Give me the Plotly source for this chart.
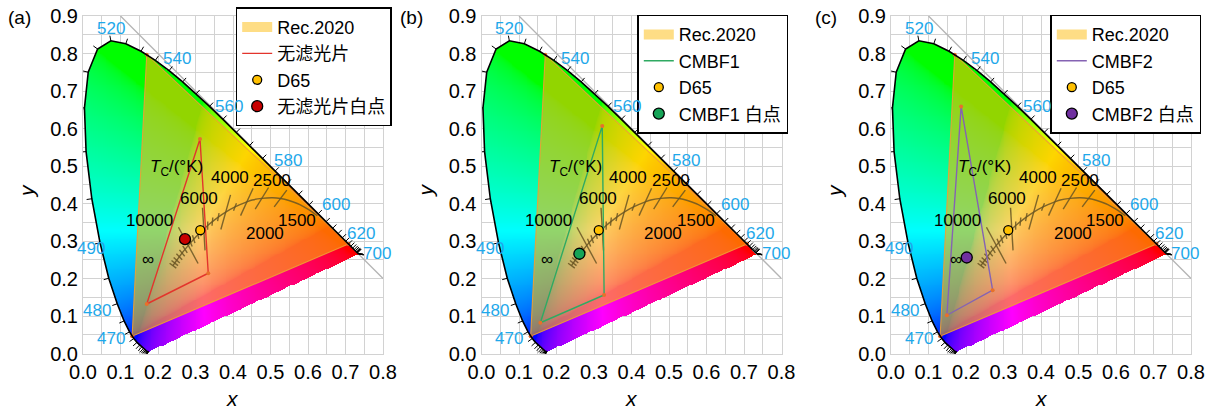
import base64
import struct
import zlib

import numpy as np
import plotly.graph_objects as go

# ---------------- data ----------------
# CIE 1931 2-degree spectral locus, 380-700 nm every 5 nm
wavelengths = list(range(380, 705, 5))
locus_x = [0.1741, 0.1740, 0.1738, 0.1736, 0.1733, 0.1730, 0.1726, 0.1721, 0.1714, 0.1703,
           0.1689, 0.1669, 0.1644, 0.1611, 0.1566, 0.1510, 0.1440, 0.1355, 0.1241, 0.1096,
           0.0913, 0.0687, 0.0454, 0.0235, 0.0082, 0.0039, 0.0139, 0.0389, 0.0743, 0.1142,
           0.1547, 0.1929, 0.2296, 0.2658, 0.3016, 0.3373, 0.3731, 0.4087, 0.4441, 0.4788,
           0.5125, 0.5448, 0.5752, 0.6029, 0.6270, 0.6482, 0.6658, 0.6801, 0.6915, 0.7006,
           0.7079, 0.7140, 0.7190, 0.7230, 0.7260, 0.7283, 0.7300, 0.7311, 0.7320, 0.7327,
           0.7334, 0.7340, 0.7344, 0.7346, 0.7347]
locus_y = [0.0050, 0.0050, 0.0049, 0.0049, 0.0048, 0.0048, 0.0048, 0.0048, 0.0051, 0.0058,
           0.0069, 0.0086, 0.0109, 0.0138, 0.0177, 0.0227, 0.0297, 0.0399, 0.0578, 0.0868,
           0.1327, 0.2007, 0.2950, 0.4127, 0.5384, 0.6548, 0.7502, 0.8120, 0.8338, 0.8262,
           0.8059, 0.7816, 0.7543, 0.7243, 0.6923, 0.6589, 0.6245, 0.5896, 0.5547, 0.5202,
           0.4866, 0.4544, 0.4242, 0.3965, 0.3725, 0.3514, 0.3340, 0.3197, 0.3083, 0.2993,
           0.2920, 0.2859, 0.2809, 0.2770, 0.2740, 0.2717, 0.2700, 0.2689, 0.2680, 0.2673,
           0.2666, 0.2660, 0.2656, 0.2654, 0.2653]

# labelled wavelengths
label_wavelengths = [520, 540, 560, 580, 600, 620, 700, 500, 490, 480, 470, 460, 380]

# Planckian locus (T in K; 1e12 stands for infinity)
planck_T = [1200, 1400, 1500, 1600, 1800, 2000, 2200, 2500, 2800, 3000, 3500, 4000, 4500,
            5000, 5500, 6000, 6500, 7000, 8000, 9000, 10000, 12000, 15000, 20000, 30000,
            50000, 1e12]
planck_x = [0.6251, 0.5985, 0.5857, 0.5732, 0.5492, 0.5267, 0.5056, 0.4770, 0.4513, 0.4369,
            0.4053, 0.3805, 0.3608, 0.3451, 0.3325, 0.3221, 0.3135, 0.3064, 0.2952, 0.2869,
            0.2807, 0.2720, 0.2642, 0.2568, 0.2499, 0.2447, 0.2399]
planck_y = [0.3674, 0.3858, 0.3931, 0.3993, 0.4081, 0.4133, 0.4152, 0.4137, 0.4093, 0.4041,
            0.3907, 0.3768, 0.3636, 0.3516, 0.3411, 0.3318, 0.3237, 0.3166, 0.3048, 0.2956,
            0.2884, 0.2778, 0.2679, 0.2580, 0.2486, 0.2412, 0.2342]
isotherm_long_T = [10000, 6000, 4000, 3000, 2500, 2000]
isotherm_short_T = [1e12, 50000, 30000, 20000, 15000, 12000, 9000, 8000, 7000, 6500,
                    5500, 5000, 4500, 3500]
planck_labels = ["<i>T</i><sub>C</sub>/(°K)", "4000", "2500", "6000", "10000", "1500", "2000", "∞"]

# Rec.2020 primaries and D65
rec2020_x = [0.708, 0.170, 0.131]
rec2020_y = [0.292, 0.797, 0.046]
d65_x = [0.3127]
d65_y = [0.3290]

# per panel
panel_tags = ["(a)", "(b)", "(c)"]
filter_names = ["无滤光片", "CMBF1", "CMBF2"]
white_names = ["无滤光片白点", "CMBF1 白点", "CMBF2 白点"]
gamut_x = [[0.312, 0.334, 0.170], [0.322, 0.327, 0.157], [0.187, 0.271, 0.149]]
gamut_y = [[0.572, 0.214, 0.132], [0.607, 0.156, 0.082], [0.659, 0.169, 0.102]]
white_x = [0.272, 0.261, 0.202]
white_y = [0.305, 0.266, 0.256]

# ---------------- styles ----------------
LINE_COLORS = ["#E3342C", "#2FAA62", "#8563B3"]
WP_COLORS = ["#C80000", "#16A457", "#7030A0"]
WL_BLUE = "#1EA8EA"
PLANCK_COLOR = "rgba(105,85,35,0.85)"
GRID = "#D2D2D2"
FONT = "Liberation Sans, Arial, sans-serif"
FONT_CJK = "Liberation Sans, Arial, Noto Sans CJK SC, sans-serif"
W, H = 1213, 409
X_LEFT_PX = [83, 481.5, 891]
PLOT_W_PX = 300
Y_TOP_PX, Y_BOT_PX = 16, 353.5
TAG_X_PX = [19.5, 411, 826]
LEGEND_POS_PX = [(235.7, 7.3), (637.3, 14.7), (1050.3, 14.7)]
XMAX, YMAX = 0.8, 0.9
ISO_LONG_HALF = [0.055, 0.057, 0.048, 0.040, 0.034, 0.028]   # half-length in xy units
ISO_SHORT_HALF = 0.011
REC_FILL = "rgba(252,182,0,0.58)"

# wavelength label offsets (data units) relative to the locus point
WL_OFFSETS = {520: (0.0, 0.032), 540: (0.020, 0.032), 560: (0.015, 0.033),
              580: (0.034, 0.027), 600: (0.048, 0.024), 620: (0.050, 0.013),
              700: (0.050, 0.001), 500: (-0.055, 0.003), 490: (-0.023, -0.015),
              480: (-0.054, -0.017), 470: (-0.050, -0.017), 460: (-0.046, -0.030),
              380: (0.045, -0.008)}
PLANCK_LABEL_POS = [(0.250, 0.494), (0.391, 0.470), (0.504, 0.461), (0.310, 0.414),
                    (0.178, 0.354), (0.571, 0.355), (0.484, 0.321), (0.174, 0.250)]


# ---------------- chromaticity background image ----------------
def make_cie_image():
    step = 0.0025
    nx, ny = int(round(XMAX / step)), int(round(YMAX / step))
    xs = (np.arange(nx) + 0.5) * step
    ys = (np.arange(ny) + 0.5) * step
    X, Y = np.meshgrid(xs, ys)
    px, py = np.array(locus_x), np.array(locus_y)
    inside = np.zeros(X.shape, dtype=bool)
    j = len(px) - 1
    for i in range(len(px)):
        xi, yi, xj, yj = px[i], py[i], px[j], py[j]
        if yi != yj:
            cond = ((yi > Y) != (yj > Y)) & (X < (xj - xi) * (Y - yi) / (yj - yi) + xi)
            inside ^= cond
        j = i
    Xc = X / Y
    Zc = (1 - X - Y) / Y
    r = 3.2406 * Xc - 1.5372 - 0.4986 * Zc
    g = -0.9689 * Xc + 1.8758 + 0.0415 * Zc
    b = 0.0557 * Xc - 0.2040 + 1.0570 * Zc
    rgb = np.clip(np.stack([r, g, b], axis=-1), 0, None)
    rgb = rgb / np.maximum(rgb.max(axis=-1, keepdims=True), 1e-9)
    rgb = np.where(rgb <= 0.0031308, 12.92 * rgb, 1.055 * np.power(rgb, 1 / 2.4) - 0.055)
    img = np.zeros((ny, nx, 4), dtype=np.uint8)
    img[..., :3] = np.clip(rgb * 255, 0, 255).astype(np.uint8)
    img[..., 3] = np.where(inside, 255, 0).astype(np.uint8)
    return img, step


def png_uri(rgba):
    h, w, _ = rgba.shape
    raw = b"".join(b"\x00" + rgba[i].tobytes() for i in range(h))

    def chunk(tag, data):
        c = struct.pack(">I", len(data)) + tag + data
        return c + struct.pack(">I", zlib.crc32(tag + data) & 0xFFFFFFFF)

    png = (b"\x89PNG\r\n\x1a\n" + chunk(b"IHDR", struct.pack(">IIBBBBB", w, h, 8, 6, 0, 0, 0))
           + chunk(b"IDAT", zlib.compress(raw, 9)) + chunk(b"IEND", b""))
    return "data:image/png;base64," + base64.b64encode(png).decode()


cie_img, STEP = make_cie_image()
CIE_URI = png_uri(cie_img)


# ---------------- geometry helpers ----------------
def locus_ticks(length=0.014):
    px, py = np.array(locus_x), np.array(locus_y)
    cx, cy = 0.33, 0.33
    xs, ys = [], []
    n = len(px)
    for i in range(n):
        a, b = max(i - 1, 0), min(i + 1, n - 1)
        tx, ty = px[b] - px[a], py[b] - py[a]
        nrm = np.hypot(tx, ty)
        if nrm < 2e-3:
            nx_, ny_ = px[i] - cx, py[i] - cy
        else:
            nx_, ny_ = ty, -tx
            if nx_ * (px[i] - cx) + ny_ * (py[i] - cy) < 0:
                nx_, ny_ = -nx_, -ny_
        l = np.hypot(nx_, ny_)
        nx_, ny_ = nx_ / l, ny_ / l
        xs += [px[i], px[i] + nx_ * length, None]
        ys += [py[i], py[i] + ny_ * length, None]
    return xs, ys


def xy_to_uv(x, y):
    d = -2 * x + 12 * y + 3
    return 4 * x / d, 6 * y / d


def uv_to_xy(u, v):
    d = 2 * u - 8 * v + 4
    return 3 * u / d, 2 * v / d


def isotherms(temps, halves):
    px, py = np.array(planck_x), np.array(planck_y)
    u, v = xy_to_uv(px, py)
    xs, ys = [], []
    n = len(px)
    for T, half in zip(temps, halves):
        i = planck_T.index(T)
        a, b = max(i - 1, 0), min(i + 1, n - 1)
        tu, tv = u[b] - u[a], v[b] - v[a]
        l = np.hypot(tu, tv)
        nu, nv = -tv / l, tu / l
        xa_, ya_ = uv_to_xy(u[i] + nu * 1e-3, v[i] + nv * 1e-3)
        dx, dy = xa_ - px[i], ya_ - py[i]
        dl = np.hypot(dx, dy)
        dx, dy = dx / dl * half, dy / dl * half
        xs += [px[i] + dx, px[i] - dx, None]
        ys += [py[i] + dy, py[i] - dy, None]
    return xs, ys


tick_x, tick_y = locus_ticks()
iso_long_x, iso_long_y = isotherms(isotherm_long_T, ISO_LONG_HALF)
iso_short_x, iso_short_y = isotherms(isotherm_short_T, [ISO_SHORT_HALF] * len(isotherm_short_T))

# ---------------- figure ----------------
fig = go.Figure()
annotations = []
shapes = []
layout = {}

for k in range(3):
    sfx = "" if k == 0 else str(k + 1)
    xa, ya = "x" + sfx, "y" + sfx
    leg = "legend" + sfx
    common = dict(xaxis=xa, yaxis=ya, hoverinfo="skip")

    # chromaticity colour fill
    fig.add_trace(go.Image(source=CIE_URI, x0=STEP / 2, dx=STEP, y0=STEP / 2, dy=STEP, **common))

    # Rec.2020 gamut fill + edge
    fig.add_trace(go.Scatter(x=rec2020_x + [rec2020_x[0]], y=rec2020_y + [rec2020_y[0]],
                             mode="lines", fill="toself", fillcolor=REC_FILL,
                             line=dict(color="rgba(240,160,50,0.9)", width=1.1),
                             showlegend=False, **common))
    fig.add_trace(go.Scatter(x=rec2020_x, y=rec2020_y, mode="markers",
                             marker=dict(size=4, color="#E8702A"), showlegend=False, **common))
    # legend swatch for Rec.2020
    fig.add_trace(go.Scatter(x=[None], y=[None], mode="lines", name="Rec.2020",
                             line=dict(color="#FEDD85", width=13), legend=leg, **common))

    # spectral locus outline + wavelength ticks
    fig.add_trace(go.Scatter(x=locus_x, y=locus_y, mode="lines",
                             line=dict(color="black", width=1.6), showlegend=False, **common))
    fig.add_trace(go.Scatter(x=tick_x, y=tick_y, mode="lines",
                             line=dict(color="black", width=1.0), showlegend=False, **common))

    # Planckian locus and isotherms
    fig.add_trace(go.Scatter(x=planck_x, y=planck_y, mode="lines", line_shape="spline",
                             line=dict(color=PLANCK_COLOR, width=1.4), showlegend=False, **common))
    fig.add_trace(go.Scatter(x=iso_long_x, y=iso_long_y, mode="lines",
                             line=dict(color=PLANCK_COLOR, width=1.4), showlegend=False, **common))
    fig.add_trace(go.Scatter(x=iso_short_x, y=iso_short_y, mode="lines",
                             line=dict(color=PLANCK_COLOR, width=1.4), showlegend=False, **common))

    # filter gamut triangle
    fig.add_trace(go.Scatter(x=gamut_x[k] + [gamut_x[k][0]], y=gamut_y[k] + [gamut_y[k][0]],
                             mode="lines", name=filter_names[k],
                             line=dict(color=LINE_COLORS[k], width=1.4), legend=leg, **common))
    fig.add_trace(go.Scatter(x=gamut_x[k], y=gamut_y[k], mode="markers",
                             marker=dict(size=4, color="#E8702A"), showlegend=False, **common))

    # D65 and white point
    fig.add_trace(go.Scatter(x=d65_x, y=d65_y, mode="markers", name="D65",
                             marker=dict(size=9, color="#FFC000", line=dict(color="black", width=1.3)),
                             legend=leg, **common))
    fig.add_trace(go.Scatter(x=[white_x[k]], y=[white_y[k]], mode="markers", name=white_names[k],
                             marker=dict(size=11, color=WP_COLORS[k], line=dict(color="black", width=1.3)),
                             legend=leg, **common))

    # axes
    x0p = X_LEFT_PX[k] / W
    x1p = (X_LEFT_PX[k] + PLOT_W_PX) / W
    y0p = 1 - Y_BOT_PX / H
    y1p = 1 - Y_TOP_PX / H
    axis_common = dict(showgrid=True, gridcolor=GRID, gridwidth=1, zeroline=False,
                       showline=True, linecolor=GRID, linewidth=1, mirror=True,
                       ticks="", tickfont=dict(family=FONT, size=20, color="black"),
                       tickformat=".1f", dtick=0.1, tick0=0,
                       minor=dict(dtick=0.05, showgrid=True, gridcolor=GRID, gridwidth=1),
                       fixedrange=True, automargin=False, ticklabelstandoff=0)
    layout["xaxis" + sfx] = dict(domain=[x0p, x1p], range=[0, XMAX], anchor=ya, **axis_common)
    layout["yaxis" + sfx] = dict(domain=[y0p, y1p], range=[0, YMAX], anchor=xa,
                                 scaleanchor=xa, scaleratio=1, constrain="domain", **axis_common)

    # x + y = 1 line
    shapes.append(dict(type="line", xref=xa, yref=ya, x0=1 - YMAX, y0=YMAX, x1=XMAX, y1=1 - XMAX,
                       line=dict(color="#B4B4B4", width=1.3), layer="between"))

    # wavelength labels
    for wl in label_wavelengths:
        i = wavelengths.index(wl)
        dx, dy = WL_OFFSETS[wl]
        annotations.append(dict(x=locus_x[i] + dx, y=locus_y[i] + dy, xref=xa, yref=ya,
                                xanchor="center", yanchor="middle",
                                text=str(wl), showarrow=False,
                                font=dict(family=FONT, size=17, color=WL_BLUE)))
    # Planckian labels
    for txt, (lx, ly) in zip(planck_labels, PLANCK_LABEL_POS):
        annotations.append(dict(x=lx, y=ly, xref=xa, yref=ya, text=txt, showarrow=False,
                                xanchor="center", yanchor="middle",
                                font=dict(family=FONT, size=17, color="black")))

    # axis titles and panel tags
    xc = (X_LEFT_PX[k] + PLOT_W_PX / 2) / W
    annotations.append(dict(x=xc, y=1 - 398 / H, xref="paper", yref="paper", text="<i>x</i>",
                            xanchor="center", yanchor="middle",
                            showarrow=False, font=dict(family=FONT, size=21, color="black")))
    annotations.append(dict(x=(X_LEFT_PX[k] - 57) / W, y=1 - 191 / H, xref="paper", yref="paper",
                            text="<i>y</i>", textangle=-90, showarrow=False,
                            xanchor="center", yanchor="middle",
                            font=dict(family=FONT, size=21, color="black")))
    annotations.append(dict(x=TAG_X_PX[k] / W, y=1 - 17 / H, xref="paper", yref="paper",
                            text=panel_tags[k], showarrow=False,
                            xanchor="center", yanchor="middle",
                            font=dict(family=FONT, size=19, color="black")))

    lx, ly = LEGEND_POS_PX[k]
    layout[leg] = dict(x=lx / W, y=1 - ly / H, xanchor="left", yanchor="top",
                       bgcolor="white", bordercolor="black", borderwidth=1.5,
                       font=dict(family=FONT_CJK, size=18, color="black"),
                       tracegroupgap=0, itemclick=False, itemdoubleclick=False)

fig.update_layout(width=W, height=H, margin=dict(l=0, r=0, t=0, b=0),
                  paper_bgcolor="white", plot_bgcolor="white",
                  annotations=annotations, shapes=shapes, showlegend=True, **layout)

fig.write_html("out.html")
